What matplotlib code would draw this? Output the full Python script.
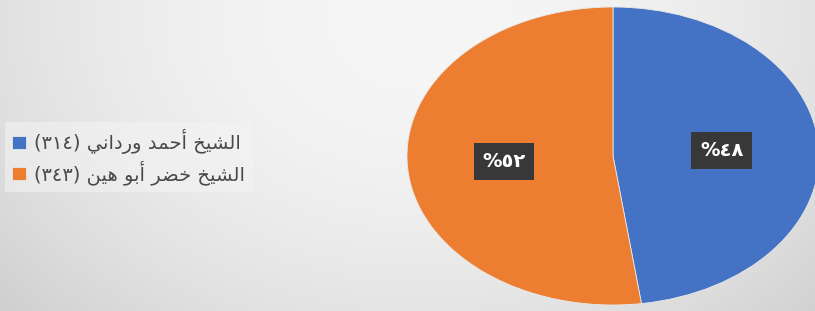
import re
import numpy as np
import matplotlib
matplotlib.use("Agg")
import matplotlib.pyplot as plt

# ---------------- data ----------------
names = ["الشيخ أحمد ورداني", "الشيخ خضر أبو هين"]
values = [314, 343]
colors = ["#4472C4", "#ED7D31"]

# ---------------- minimal Arabic shaping / visual ordering ----------------
DUAL = {
    "ب": "\uFE8F\uFE90\uFE91\uFE92", "ح": "\uFEA1\uFEA2\uFEA3\uFEA4",
    "خ": "\uFEA5\uFEA6\uFEA7\uFEA8", "ش": "\uFEB5\uFEB6\uFEB7\uFEB8",
    "ض": "\uFEBD\uFEBE\uFEBF\uFEC0", "ل": "\uFEDD\uFEDE\uFEDF\uFEE0",
    "م": "\uFEE1\uFEE2\uFEE3\uFEE4", "ن": "\uFEE5\uFEE6\uFEE7\uFEE8",
    "ه": "\uFEE9\uFEEA\uFEEB\uFEEC", "ي": "\uFEF1\uFEF2\uFEF3\uFEF4",
}
RIGHT = {
    "ا": "\uFE8D\uFE8E", "أ": "\uFE83\uFE84", "د": "\uFEA9\uFEAA",
    "ر": "\uFEAD\uFEAE", "و": "\uFEED\uFEEE",
}


def joins(c):
    return c in DUAL or c in RIGHT


def shape(s):
    out = []
    n = len(s)
    for i, c in enumerate(s):
        if not joins(c):
            out.append(c)
            continue
        prev_c = s[i - 1] if i > 0 else ""
        next_c = s[i + 1] if i + 1 < n else ""
        pc = prev_c in DUAL
        nc = c in DUAL and joins(next_c)
        if c in DUAL:
            f = DUAL[c]
            out.append(f[3] if (pc and nc) else f[1] if pc else f[2] if nc else f[0])
        else:
            f = RIGHT[c]
            out.append(f[1] if pc else f[0])
    return "".join(out)


def visual(s):
    rev = shape(s)[::-1]
    rev = re.sub(r"[0-9\u0660-\u0669]+", lambda m: m.group(0)[::-1], rev)
    return rev.translate(str.maketrans("()", ")("))


def to_ar(n):
    return str(n).translate(str.maketrans("0123456789", "٠١٢٣٤٥٦٧٨٩"))


labels = [visual(f"{nm} ({to_ar(v)})") for nm, v in zip(names, values)]

# ---------------- figure ----------------
W, H = 815, 311
fig = plt.figure(figsize=(W / 100, H / 100), dpi=100)

# background gradient
bg = fig.add_axes([0, 0, 1, 1])
yy, xx = np.mgrid[0:H, 0:W]
r2 = ((xx - 420) / 470.0) ** 2 + ((yy - 20) / 360.0) ** 2
val = 246 - 27 * np.clip(r2, 0, 1.5)
rgb = np.dstack([val, val, val]) / 255.0
bg.imshow(rgb, aspect="auto", extent=[0, 1, 0, 1], interpolation="bilinear")
bg.set_axis_off()

# pie (elliptical)
ax = fig.add_axes([407 / W, (H - 305) / H, 412 / W, 298 / H])
wedges, texts, autotexts = ax.pie(
    values, colors=colors, startangle=90, counterclock=False,
    autopct=lambda p: visual(to_ar(int(round(p))) + "%"),
    pctdistance=0.53,
    wedgeprops=dict(edgecolor="#e8e8e8", linewidth=0.6),
)
ax.set_aspect("auto")
ax.set_xlim(-1, 1)
ax.set_ylim(-1, 1)
ax.set_axis_off()

for t in autotexts:
    t.set_color("white")
    t.set_fontsize(14)
    t.set_fontweight("bold")
    t.set_bbox(dict(boxstyle="square,pad=0.45", fc="#383838", ec="none"))

leg = fig.legend(
    wedges, labels, loc="upper left",
    bbox_to_anchor=(5 / W, 1 - 122 / H), borderaxespad=0,
    frameon=True, facecolor="#f4f4f4", edgecolor="none", framealpha=0.55,
    fancybox=False, fontsize=14, handlelength=0.68, handleheight=0.68,
    handletextpad=0.45, labelspacing=0.3, borderpad=0.38,
)
for t in leg.get_texts():
    t.set_color("#4a4a4a")

fig.savefig("out.png", dpi=100)
